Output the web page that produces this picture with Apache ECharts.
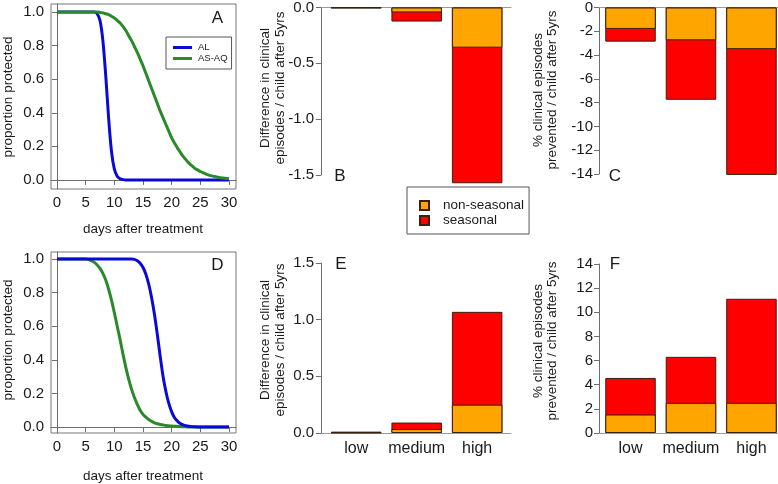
<!DOCTYPE html>
<html><head><meta charset="utf-8">
<script src="https://cdn.jsdelivr.net/npm/echarts@6/dist/echarts.min.js"></script>
<style>html,body{margin:0;padding:0;background:#fff}#c{width:778px;height:484px}</style>
</head><body><div id="c"></div>
<script>
// ---------- data ----------
const days = [0,0.5,1,1.5,2,2.5,3,3.5,4,4.5,5,5.5,6,6.5,7,7.5,8,8.5,9,9.5,10,10.5,11,11.5,12,12.5,13,13.5,14,14.5,15,15.5,16,16.5,17,17.5,18,18.5,19,19.5,20,20.5,21,21.5,22,22.5,23,23.5,24,24.5,25,25.5,26,26.5,27,27.5,28,28.5,29,29.5,30];
// panel A
const alA = [1,1,1,1,1,1,1,1,1,1,1,1,1,1,
  0.99,0.95,0.83,0.62,0.37,0.17,0.065,0.022,0.007,0.002,
  0,0,0,0,0,0,0,0,0,0,0,0,0,0,0,0,0,0,0,0,0,0,0,0,0,0,0,0,0,0,0,0,0,0,0,0,0];
const asaqA = [1,1,1,1,1,1,1,1,1,1,1,1,1,1,1,
  0.998,0.995,0.99,0.985,0.975,0.965,0.95,0.935,0.915,0.89,0.86,0.83,0.795,0.76,0.72,0.68,0.635,0.59,0.545,0.50,0.455,0.41,0.37,0.33,0.29,0.25,0.22,0.19,0.165,0.14,0.12,0.10,0.085,0.07,0.06,0.05,0.042,0.035,0.029,0.024,0.02,0.016,0.013,0.011,0.009,0.007];
// panel D
const alD = [1,1,1,1,1,1,1,1,1,1,1,1,1,1,1,1,1,1,1,1,1,1,1,1,1,1,1,
  0.998,0.99,0.975,0.95,0.91,0.85,0.77,0.67,0.55,0.42,0.30,0.21,0.14,0.09,0.055,0.035,0.02,0.012,0.007,0.004,0.002,0.001,
  0,0,0,0,0,0,0,0,0,0,0,0];
const asaqD = [1,1,1,1,1,1,1,1,1,1,1,
  0.997,0.99,0.98,0.965,0.945,0.915,0.875,0.82,0.755,0.68,0.60,0.52,0.435,0.355,0.285,0.225,0.175,0.135,0.10,0.075,0.058,0.045,0.034,0.025,0.019,0.015,0.012,0.009,0.007,0.005,0.004,0.003,0.002,0.001,0.0005,
  0,0,0,0,0,0,0,0,0,0,0,0,0,0,0];
const dayTicks = [0,5,10,15,20,25,30];
const propTicks = [0,0.2,0.4,0.6,0.8,1.0];

const categories = ['low','medium','high'];
// panel B: difference in clinical episodes / child after 5yrs
const nonSeasonalB = [-0.003,-0.044,-0.36];
const seasonalB    = [-0.006,-0.126,-1.574];
// panel C: % clinical episodes prevented
const nonSeasonalC = [-1.8,-2.76,-3.5];
const seasonalC    = [-2.87,-7.76,-14.08];
// panel E
const nonSeasonalE = [0.004,0.035,0.25];
const seasonalE    = [0.012,0.092,1.069];
// panel F
const nonSeasonalF = [1.53,2.5,2.5];
const seasonalF    = [4.56,6.31,11.12];

// ---------- style ----------
const FONT = "'Liberation Sans', Arial, Helvetica, sans-serif";
const TXT = '#1a1a1a';
const AX = '#6e6e6e';
const BLUE = '#0a0ad8';
const GREEN = '#2a8a2a';
const ORANGE = '#FFA500';
const RED = '#FF0000';
const BORDER = '#3a2010';
const PXU = 50.4; // pixels per bar unit

// bar positions along the value axis (barplot layout: width 1, space 0.2)
const barPos = categories.map((c,i) => 0.7 + 1.2*i);

function curveAxes(gi, ymin, ymax){
  return {
    x: {type:'value', gridIndex:gi, min:-1.05, max:31.22,
        axisLine:{show:true, lineStyle:{color:AX}},
        axisTick:{show:true, customValues:dayTicks, length:5, inside:false, lineStyle:{color:AX}},
        axisLabel:{customValues:dayTicks, margin:6, fontSize:15, color:TXT, fontFamily:FONT},
        splitLine:{show:false}},
    y: {type:'value', gridIndex:gi, min:ymin, max:ymax,
        axisLine:{show:true, lineStyle:{color:AX}},
        axisTick:{show:true, customValues:propTicks, length:5, lineStyle:{color:AX}},
        axisLabel:{customValues:propTicks, margin:7, fontSize:15, color:TXT, fontFamily:FONT,
                   formatter:v=>v.toFixed(1)},
        splitLine:{show:false}}
  };
}
function barAxes(gi, xmin, widthPx, showCat, ymin, ymax, step, dec){
  return {
    x: {type:'value', gridIndex:gi, min:xmin, max:xmin+widthPx/PXU,
        axisLine:{show:true, onZero:true, lineStyle:{color:'#9a9a9a', width:1}},
        axisTick:{show:false},
        axisLabel:{show:showCat, customValues:barPos, margin:8, fontSize:16, color:TXT, fontFamily:FONT,
                   formatter:v=>{const i=barPos.findIndex(p=>Math.abs(p-v)<1e-6);return i>=0?categories[i]:'';}},
        splitLine:{show:false}},
    y: {type:'value', gridIndex:gi, min:ymin, max:ymax, interval:step,
        axisLine:{show:true, lineStyle:{color:AX}},
        axisTick:{show:true, length:5, lineStyle:{color:AX}},
        axisLabel:{margin:6, fontSize:15, color:TXT, fontFamily:FONT, formatter:v=>dec?v.toFixed(1):String(Math.round(v))},
        splitLine:{show:false}}
  };
}

const axA = curveAxes(0, -0.054, 1.048);
const axD = curveAxes(1, -0.036, 1.042);
const axB = barAxes(2, -0.018, 191, false, -1.5, 0, 0.5, true);
const axC = barAxes(3, 0.075, 179, false, -14, 0, 2, false);
const axE = barAxes(4, -0.018, 191, true, 0, 1.5, 0.5, true);
const axF = barAxes(5, 0.075, 179, true, 0, 14, 2, false);

function lineSeries(name, gi, vals, color){
  return {type:'line', name:name, xAxisIndex:gi, yAxisIndex:gi, symbol:'none', smooth:0.3,
    lineStyle:{color:color, width:3}, itemStyle:{color:color},
    data: days.map((d,i)=>[d, vals[i]])};
}
function barSeries(name, gi, vals, color){
  return {type:'bar', name:name, xAxisIndex:gi, yAxisIndex:gi, barWidth:50.5, barGap:'-100%', clip:false,
    itemStyle:{color:color, borderColor:BORDER, borderWidth:1},
    emphasis:{disabled:true},
    data: barPos.map((p,i)=>[p, vals[i]])};
}

function vtext(x, y, str){
  return {type:'text', x:x, y:y, rotation:Math.PI/2,
    style:{text:str, font:'13.5px '+FONT, fill:TXT, textAlign:'center', textVerticalAlign:'middle'}};
}
function htext(x, y, str, size){
  return {type:'text', x:x, y:y,
    style:{text:str, font:size+'px '+FONT, fill:TXT, textAlign:'center', textVerticalAlign:'middle'}};
}

const option = {
  animation:false,
  backgroundColor:'#fff',
  grid:[
    {left:51, top:4, width:185, height:185, show:true, borderColor:'#777', borderWidth:1, backgroundColor:'transparent'},
    {left:51, top:252, width:185, height:181, show:true, borderColor:'#777', borderWidth:1, backgroundColor:'transparent'},
    {left:320, top:5, width:191, height:170},
    {left:599, top:5, width:179, height:169},
    {left:320, top:263, width:191, height:170},
    {left:599, top:264, width:179, height:169}
  ],
  xAxis:[axA.x, axD.x, axB.x, axC.x, axE.x, axF.x],
  yAxis:[axA.y, axD.y, axB.y, axC.y, axE.y, axF.y],
  legend:[
    {data:['AL','AS-AQ'], left:166, top:37, orient:'vertical', icon:'rect', itemWidth:19, itemHeight:3, itemGap:0,
     padding:[5,4,5,7], borderColor:'#555', borderWidth:1, backgroundColor:'#fff',
     textStyle:{fontSize:9.5, lineHeight:11, fontFamily:FONT, color:TXT, padding:[0,0,0,1]}, selectedMode:false},
    {data:['non-seasonal','seasonal'], left:407, top:187, orient:'vertical', itemWidth:9, itemHeight:9, itemGap:0,
     icon:'rect', padding:[11,5,6,12], borderColor:'#555', borderWidth:1, backgroundColor:'#fff',
     textStyle:{fontSize:13.5, lineHeight:15, fontFamily:FONT, color:TXT, padding:[0,0,0,9]}, selectedMode:false}
  ],
  series:[
    lineSeries('AL', 0, alA, BLUE),
    lineSeries('AS-AQ', 0, asaqA, GREEN),
    lineSeries('AS-AQ', 1, asaqD, GREEN),
    lineSeries('AL', 1, alD, BLUE),
    barSeries('seasonal', 2, seasonalB, RED),
    barSeries('non-seasonal', 2, nonSeasonalB, ORANGE),
    barSeries('seasonal', 3, seasonalC, RED),
    barSeries('non-seasonal', 3, nonSeasonalC, ORANGE),
    barSeries('seasonal', 4, seasonalE, RED),
    barSeries('non-seasonal', 4, nonSeasonalE, ORANGE),
    barSeries('seasonal', 5, seasonalF, RED),
    barSeries('non-seasonal', 5, nonSeasonalF, ORANGE)
  ],
  graphic:[
    vtext(8.5, 97, 'proportion protected'),
    vtext(8.5, 340, 'proportion protected'),
    htext(143, 229, 'days after treatment', 13.5),
    htext(143, 476, 'days after treatment', 13.5),
    vtext(265, 88, 'Difference in clinical'),
    vtext(280, 88, 'episodes / child after 5yrs'),
    vtext(265, 340, 'Difference in clinical'),
    vtext(280, 340, 'episodes / child after 5yrs'),
    vtext(538, 90, '% clinical episodes'),
    vtext(552, 90, 'prevented / child after 5yrs'),
    vtext(538, 341, '% clinical episodes'),
    vtext(552, 341, 'prevented / child after 5yrs'),
    htext(217.5, 18, 'A', 17),
    htext(217.5, 265, 'D', 17),
    htext(340, 176, 'B', 17),
    htext(615, 176, 'C', 17),
    htext(341, 264, 'E', 17),
    htext(615, 264, 'F', 17)
  ]
};
const chart = echarts.init(document.getElementById('c'), null, {renderer:'canvas'});
chart.setOption(option);
</script>
</body></html>
